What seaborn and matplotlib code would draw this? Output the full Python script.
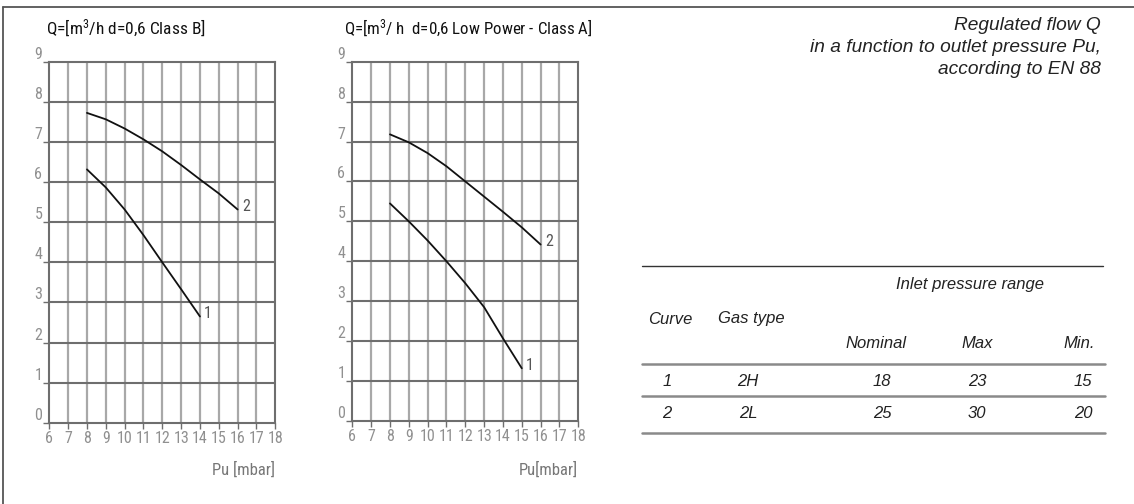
import matplotlib
matplotlib.use("Agg")
import matplotlib.pyplot as plt
from matplotlib import font_manager as fm
from matplotlib.lines import Line2D
import seaborn as sns
import pandas as pd

# ---------------- data ----------------
pu_b1 = [8, 9, 10, 11, 12, 13, 14]
q_b1 = [6.32, 5.87, 5.32, 4.68, 4.00, 3.33, 2.65]
pu_b2 = [8, 9, 10, 11, 12, 13, 14, 15, 16]
q_b2 = [7.73, 7.57, 7.34, 7.07, 6.77, 6.43, 6.07, 5.72, 5.32]

pu_a1 = [8, 9, 10, 11, 12, 13, 14, 15]
q_a1 = [5.45, 5.00, 4.52, 4.00, 3.45, 2.85, 2.07, 1.32]
pu_a2 = [8, 9, 10, 11, 12, 13, 14, 15, 16]
q_a2 = [7.18, 6.98, 6.71, 6.38, 6.00, 5.62, 5.24, 4.85, 4.42]

x_ticks = list(range(6, 19))
y_ticks = list(range(0, 10))

titles = ["Q=[m$^3$/h d=0,6 Class B]", "Q=[m$^3$/ h  d=0,6 Low Power - Class A]"]
xlabels = ["Pu [mbar]", "Pu[mbar]"]

heading = ["Regulated flow Q", "in a function to outlet pressure Pu,", "according to EN 88"]

tbl_curve = ["1", "2"]
tbl_gas = ["2H", "2L"]
tbl_nominal = [18, 25]
tbl_max = [23, 30]
tbl_min = [15, 20]

# ---------------- fonts ----------------
sns.set_theme(style="white")
names = {f.name for f in fm.fontManager.ttflist}
cond_kw = {}
if "Liberation Sans Narrow" in names:
    cond_family = "Liberation Sans Narrow"
elif "Roboto Condensed" in names:
    cond_family = "Roboto Condensed"
else:
    cond_family = "DejaVu Sans"
    cond_kw = {"fontstretch": "condensed"}
plt.rcParams["font.family"] = [cond_family, "DejaVu Sans"]
plt.rcParams["mathtext.fontset"] = "custom"
plt.rcParams["mathtext.rm"] = cond_family
plt.rcParams["mathtext.it"] = cond_family
plt.rcParams["mathtext.default"] = "regular"

W, H = 1134, 504
fig = plt.figure(figsize=(W / 100, H / 100), dpi=100)
fig.patch.set_facecolor("white")


def fx(px):
    return px / W


def fy(py):
    return 1 - py / H


GRID_H = "#6e6e6e"
GRID_V = "#a8a8a8"
TICK_C = "#909090"

axes_boxes = [
    (49.3, 62.0, 275.3, 422.7),
    (352.3, 61.7, 578.3, 421.0),
]
curves = [
    [(pu_b1, q_b1, "1"), (pu_b2, q_b2, "2")],
    [(pu_a1, q_a1, "1"), (pu_a2, q_a2, "2")],
]

for i, (l, t, r, b) in enumerate(axes_boxes):
    ax = fig.add_axes([fx(l), fy(b), fx(r - l), (b - t) / H])
    ax.set_xlim(6, 18)
    ax.set_ylim(0, 9)
    ax.set_facecolor("white")
    # grid
    for xv in x_ticks[1:-1]:
        ax.axvline(xv, color=GRID_V, lw=1.6, zorder=1)
    for yv in y_ticks[1:-1]:
        ax.axhline(yv, color=GRID_H, lw=1.5, zorder=1)
    for sp in ax.spines.values():
        sp.set_visible(True)
        sp.set_color(GRID_H)
        sp.set_linewidth(1.5)
    ax.set_xticks(x_ticks)
    ax.set_yticks(y_ticks)
    ax.set_xticklabels([str(v) for v in x_ticks], fontsize=11.5, color=TICK_C, **cond_kw)
    ax.set_yticklabels([str(v) for v in y_ticks], fontsize=11.5, color=TICK_C, **cond_kw)
    for lbl in ax.get_yticklabels():
        lbl.set_va("bottom")
    ax.tick_params(axis="both", which="major", length=4, width=1.0, color=GRID_H,
                   bottom=True, left=True, pad=1.0)
    ax.tick_params(axis="x", pad=2)
    for xs, qs, lab in curves[i]:
        df = pd.DataFrame({"Pu": xs, "Q": qs})
        sns.lineplot(data=df, x="Pu", y="Q", ax=ax, color="#111111", lw=1.3,
                     zorder=3, legend=False)
        ax.annotate(lab, xy=(xs[-1], qs[-1]), xytext=(3, 2), textcoords="offset points",
                    ha="left", va="center", fontsize=11.5, color="#555555", **cond_kw)
    ax.set_xlabel("")
    ax.set_ylabel("")
    # title
    if i == 0:
        fig.text(fx(126), fy(28), titles[i], ha="center", va="center",
                 fontsize=12.5, color="#111111", **cond_kw)
    else:
        fig.text(fx(593), fy(28), titles[i], ha="right", va="center",
                 fontsize=12.2, color="#111111", **cond_kw)
    fig.text(fx(r), fy(470), xlabels[i], ha="right", va="center", fontsize=12,
             color="#777777", **cond_kw)

# figure frame (left and top)
fig.add_artist(Line2D([fx(2.7), fx(2.7)], [fy(6.7), fy(504)], color="#555555", lw=1.3))
fig.add_artist(Line2D([fx(2.7), fx(1134)], [fy(6.7), fy(6.7)], color="#555555", lw=1.3))

# heading text
head = dict(family=["Liberation Sans", "DejaVu Sans"], style="italic", fontsize=13.8,
            color="#222222")
for k, line in enumerate(heading):
    fig.text(fx(1101), fy(25 + 22 * k), line, ha="right", va="center", **head)

# table
ital = dict(family=["Liberation Sans", "DejaVu Sans"], style="italic", fontsize=12,
            color="#222222")
fig.add_artist(Line2D([fx(642), fx(1103)], [fy(266), fy(266)], color="#333333", lw=1.0))
for yl in (364, 395.7, 432.7):
    fig.add_artist(Line2D([fx(642), fx(1105)], [fy(yl), fy(yl)], color="#8a8a8a", lw=1.8))

fig.text(fx(970), fy(285), "Inlet pressure range", ha="center", va="center", **ital)
fig.text(fx(670), fy(319), "Curve", ha="center", va="center", **ital)
fig.text(fx(751), fy(319), "Gas type", ha="center", va="center", **ital)
fig.text(fx(876), fy(344), "Nominal", ha="center", va="center", **ital)
fig.text(fx(977), fy(344), "Max", ha="center", va="center", **ital)
fig.text(fx(1095), fy(344), "Min.", ha="right", va="center", **ital)

row_y = [381.7, 414.0]
for j in range(len(tbl_curve)):
    yy = fy(row_y[j])
    fig.text(fx(667), yy, tbl_curve[j], ha="center", va="center", **ital)
    fig.text(fx(748), yy, tbl_gas[j], ha="center", va="center", **ital)
    fig.text(fx(882), yy, str(tbl_nominal[j]), ha="center", va="center", **ital)
    fig.text(fx(977), yy, str(tbl_max[j]), ha="center", va="center", **ital)
    fig.text(fx(1083), yy, str(tbl_min[j]), ha="center", va="center", **ital)

fig.savefig("out.png", dpi=100, facecolor="white")
